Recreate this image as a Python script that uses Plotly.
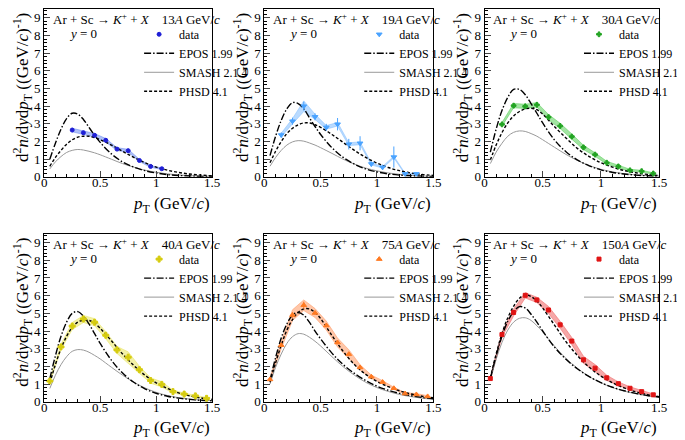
import plotly.graph_objects as go

W, H = 685, 440

energies = ["13", "19", "30", "40", "75", "150"]

model_pt = [0.05, 0.1, 0.15, 0.2, 0.25, 0.3, 0.35, 0.4, 0.45, 0.5,
            0.6, 0.7, 0.8, 0.9, 1.0, 1.1, 1.2, 1.3, 1.4, 1.5]

epos_13 = [1.0, 1.9, 2.7, 3.3, 3.6, 3.55, 3.25, 2.8, 2.35, 1.95, 1.3, 0.85, 0.55, 0.35, 0.22, 0.13, 0.08, 0.05, 0.03, 0.02]
smash_13 = [0.45, 0.85, 1.15, 1.38, 1.5, 1.55, 1.52, 1.45, 1.36, 1.25, 1.0, 0.75, 0.55, 0.38, 0.26, 0.17, 0.11, 0.07, 0.04, 0.03]
phsd_13 = [0.6, 1.1, 1.5, 1.85, 2.1, 2.25, 2.3, 2.3, 2.22, 2.1, 1.8, 1.45, 1.1, 0.8, 0.55, 0.38, 0.25, 0.16, 0.1, 0.06]

epos_19 = [1.2, 2.3, 3.2, 3.85, 4.2, 4.15, 3.85, 3.35, 2.85, 2.4, 1.65, 1.1, 0.72, 0.45, 0.28, 0.17, 0.1, 0.06, 0.04, 0.02]
smash_19 = [0.6, 1.1, 1.5, 1.8, 1.98, 2.05, 2.02, 1.92, 1.8, 1.65, 1.33, 1.0, 0.72, 0.5, 0.34, 0.22, 0.14, 0.09, 0.05, 0.03]
phsd_19 = [0.8, 1.45, 2.0, 2.45, 2.75, 2.95, 3.05, 3.05, 2.95, 2.8, 2.4, 1.95, 1.5, 1.1, 0.78, 0.53, 0.35, 0.22, 0.14, 0.08]

epos_30 = [1.4, 2.7, 3.75, 4.5, 4.95, 4.95, 4.65, 4.15, 3.6, 3.05, 2.1, 1.42, 0.95, 0.62, 0.4, 0.25, 0.16, 0.1, 0.06, 0.04]
smash_30 = [0.75, 1.4, 1.9, 2.3, 2.52, 2.6, 2.57, 2.45, 2.3, 2.1, 1.68, 1.27, 0.92, 0.64, 0.43, 0.28, 0.18, 0.11, 0.07, 0.04]
phsd_30 = [0.95, 1.8, 2.5, 3.05, 3.45, 3.7, 3.85, 3.88, 3.8, 3.55, 2.85, 2.2, 1.6, 1.15, 0.8, 0.55, 0.36, 0.23, 0.14, 0.08]

epos_40 = [1.3, 2.6, 3.7, 4.5, 5.0, 5.1, 4.85, 4.4, 3.85, 3.3, 2.35, 1.62, 1.1, 0.73, 0.48, 0.31, 0.2, 0.13, 0.08, 0.05]
smash_40 = [0.75, 1.5, 2.1, 2.55, 2.85, 2.95, 2.92, 2.8, 2.62, 2.42, 1.95, 1.5, 1.1, 0.78, 0.53, 0.35, 0.23, 0.15, 0.09, 0.06]
phsd_40 = [1.05, 2.1, 3.0, 3.7, 4.2, 4.5, 4.62, 4.6, 4.45, 4.15, 3.45, 2.7, 2.05, 1.5, 1.07, 0.75, 0.5, 0.33, 0.21, 0.13]

epos_75 = [1.2, 2.5, 3.6, 4.4, 4.9, 5.05, 4.9, 4.5, 4.0, 3.55, 2.75, 2.1, 1.6, 1.2, 0.88, 0.65, 0.47, 0.34, 0.24, 0.17]
smash_75 = [1.0, 1.95, 2.7, 3.3, 3.68, 3.85, 3.82, 3.65, 3.42, 3.15, 2.55, 1.98, 1.5, 1.1, 0.8, 0.58, 0.41, 0.29, 0.2, 0.14]
phsd_75 = [1.1, 2.2, 3.2, 4.05, 4.65, 5.05, 5.25, 5.25, 5.05, 4.7, 3.75, 2.85, 2.1, 1.55, 1.15, 0.85, 0.62, 0.44, 0.31, 0.22]

epos_150 = [1.3, 2.6, 3.7, 4.55, 5.1, 5.38, 5.3, 4.95, 4.5, 4.0, 3.1, 2.4, 1.85, 1.42, 1.08, 0.82, 0.62, 0.47, 0.35, 0.27]
smash_150 = [1.2, 2.4, 3.35, 4.05, 4.5, 4.72, 4.75, 4.6, 4.3, 3.95, 3.15, 2.45, 1.88, 1.42, 1.07, 0.8, 0.6, 0.45, 0.33, 0.25]
phsd_150 = [1.35, 2.7, 3.85, 4.75, 5.4, 5.85, 6.05, 5.95, 5.7, 5.3, 4.35, 3.4, 2.6, 1.95, 1.45, 1.07, 0.78, 0.56, 0.4, 0.29]

pt_13 = [0.25, 0.35, 0.45, 0.55, 0.65, 0.75, 0.85, 0.95, 1.05]
data_13 = [2.65, 2.5, 2.35, 2.07, 1.57, 1.48, 0.93, 0.59, 0.46]
stat_13 = [0.12, 0.1, 0.1, 0.12, 0.1, 0.12, 0.08, 0.06, 0.05]
sys_13 = [0.1, 0.1, 0.1, 0.1, 0.08, 0.08, 0.06, 0.05, 0.04]

pt_19 = [0.15, 0.25, 0.35, 0.45, 0.55, 0.65, 0.75, 0.85, 0.95, 1.05, 1.15, 1.25, 1.35]
data_19 = [2.37, 3.15, 4.0, 3.4, 2.8, 2.98, 1.85, 1.9, 0.73, 0.54, 1.12, 0.17, 0.17]
stat_19 = [0.15, 0.2, 0.25, 0.2, 0.2, 0.35, 0.3, 0.4, 0.15, 0.15, 0.6, 0.1, 0.1]
sys_19 = [0.1, 0.15, 0.3, 0.15, 0.1, 0.1, 0.08, 0.08, 0.05, 0.05, 0.05, 0.03, 0.03]

pt_30 = [0.15, 0.25, 0.35, 0.45, 0.55, 0.65, 0.75, 0.85, 0.95, 1.05, 1.15, 1.25, 1.35, 1.45]
data_30 = [2.97, 4.03, 3.99, 4.08, 3.38, 2.88, 2.28, 1.67, 1.26, 0.8, 0.59, 0.37, 0.32, 0.19]
stat_30 = [0.08, 0.12, 0.15, 0.15, 0.12, 0.12, 0.1, 0.08, 0.06, 0.06, 0.05, 0.05, 0.05, 0.05]
sys_30 = [0.1, 0.12, 0.12, 0.12, 0.15, 0.15, 0.15, 0.12, 0.1, 0.08, 0.07, 0.06, 0.05, 0.04]

pt_40 = [0.05, 0.15, 0.25, 0.35, 0.45, 0.55, 0.65, 0.75, 0.85, 0.95, 1.05, 1.15, 1.25, 1.35, 1.45]
data_40 = [1.17, 3.1, 4.28, 4.68, 4.5, 3.76, 2.93, 2.52, 1.81, 1.2, 0.98, 0.57, 0.43, 0.33, 0.19]
stat_40 = [0.1, 0.12, 0.15, 0.15, 0.15, 0.12, 0.12, 0.1, 0.08, 0.08, 0.08, 0.06, 0.05, 0.05, 0.05]
sys_40 = [0.1, 0.15, 0.2, 0.2, 0.2, 0.2, 0.2, 0.3, 0.2, 0.15, 0.15, 0.08, 0.06, 0.05, 0.04]

pt_75 = [0.05, 0.15, 0.25, 0.35, 0.45, 0.55, 0.65, 0.75, 0.85, 0.95, 1.05, 1.15, 1.25, 1.35, 1.45]
data_75 = [1.26, 3.2, 4.9, 5.46, 5.02, 4.31, 3.35, 2.69, 1.94, 1.41, 1.11, 0.76, 0.46, 0.41, 0.3]
stat_75 = [0.08, 0.1, 0.15, 0.2, 0.1, 0.1, 0.1, 0.08, 0.06, 0.05, 0.05, 0.04, 0.04, 0.04, 0.04]
sys_75 = [0.1, 0.2, 0.3, 0.3, 0.25, 0.25, 0.25, 0.25, 0.15, 0.1, 0.08, 0.06, 0.05, 0.05, 0.04]

pt_150 = [0.05, 0.15, 0.25, 0.35, 0.45, 0.55, 0.65, 0.75, 0.85, 0.95, 1.05, 1.15, 1.25, 1.35, 1.45]
data_150 = [1.31, 3.8, 5.05, 6.02, 5.76, 5.19, 4.35, 3.43, 2.37, 1.9, 1.35, 1.02, 0.76, 0.57, 0.39]
stat_150 = [0.05] * 15
sys_150 = [0.08, 0.15, 0.2, 0.15, 0.15, 0.2, 0.2, 0.2, 0.2, 0.2, 0.15, 0.1, 0.08, 0.06, 0.05]

x_ticks = [0, 0.5, 1, 1.5]
x_tick_labels = ["0", "0.5", "1", "1.5"]
y_ticks = list(range(10))

panels = [
    dict(e="13", pt=pt_13, y=data_13, st=stat_13, sy=sys_13, epos=epos_13, smash=smash_13, phsd=phsd_13,
         col="#1f1fd6", band="rgba(110,140,240,0.55)", sym="circle", size=4),
    dict(e="19", pt=pt_19, y=data_19, st=stat_19, sy=sys_19, epos=epos_19, smash=smash_19, phsd=phsd_19,
         col="#4aa3ff", band="rgba(140,195,255,0.6)", sym="triangle-down", size=5),
    dict(e="30", pt=pt_30, y=data_30, st=stat_30, sy=sys_30, epos=epos_30, smash=smash_30, phsd=phsd_30,
         col="#22a322", band="rgba(100,210,100,0.6)", sym="cross", size=4),
    dict(e="40", pt=pt_40, y=data_40, st=stat_40, sy=sys_40, epos=epos_40, smash=smash_40, phsd=phsd_40,
         col="#d6cc10", band="rgba(235,232,110,0.6)", sym="cross", size=5),
    dict(e="75", pt=pt_75, y=data_75, st=stat_75, sy=sys_75, epos=epos_75, smash=smash_75, phsd=phsd_75,
         col="#ff7a22", band="rgba(255,160,110,0.6)", sym="triangle-up", size=5),
    dict(e="150", pt=pt_150, y=data_150, st=stat_150, sy=sys_150, epos=epos_150, smash=smash_150, phsd=phsd_150,
         col="#e01515", band="rgba(240,110,110,0.6)", sym="square", size=4),
]

# pixel geometry of each panel's frame: (left, right, top, bottom)
col_px = [(35, 212), (267, 445), (499, 683)]
row_px = [(1, 172), (230, 401)]

FONT = "Liberation Serif, Times New Roman, serif"
NB = "\u00a0"

fig = go.Figure()
layout = dict(width=W, height=H, margin=dict(l=0, r=0, t=0, b=0),
              paper_bgcolor="white", plot_bgcolor="white", showlegend=True,
              font=dict(family=FONT, size=13, color="black"))
annotations = []

for i, p in enumerate(panels):
    r, c = divmod(i, 3)
    xl, xr = col_px[c]
    yt, yb = row_px[r]
    k = "" if i == 0 else str(i + 1)
    xa, ya = "x" + k, "y" + k
    leg = "legend" + k
    layout["xaxis" + k] = dict(
        domain=[xl / W, xr / W], range=[0, 1.5], anchor=ya,
        tickvals=x_ticks, ticktext=x_tick_labels, ticks="inside", ticklen=6,
        ticklabelstandoff=-6,
        minor=dict(dtick=0.1, ticks="inside", ticklen=3, tickcolor="black"),
        showgrid=False, zeroline=False, showline=True, linecolor="black",
        linewidth=1, mirror=True, tickfont=dict(size=13, family=FONT))
    layout["yaxis" + k] = dict(
        domain=[1 - yb / H, 1 - yt / H], range=[0, 9.5], anchor=xa,
        tickvals=y_ticks, ticks="inside", ticklen=6,
        minor=dict(dtick=0.2, ticks="inside", ticklen=3, tickcolor="black"),
        showgrid=False, zeroline=False, showline=True, linecolor="black",
        linewidth=1, mirror=True, tickfont=dict(size=13, family=FONT))
    layout[leg] = dict(
        x=(xl + 100) / W, y=1 - (yt + 11) / H, xanchor="left", yanchor="top",
        bgcolor="rgba(0,0,0,0)", itemwidth=30, tracegroupgap=0,
        font=dict(size=12, family=FONT), itemclick=False)

    up = [v + s for v, s in zip(p["y"], p["sy"])]
    lo = [v - s for v, s in zip(p["y"], p["sy"])]
    fig.add_trace(go.Scatter(
        x=p["pt"] + p["pt"][::-1], y=up + lo[::-1], fill="toself",
        fillcolor=p["band"], line=dict(color=p["band"], width=1),
        mode="lines", hoverinfo="skip", showlegend=False, xaxis=xa, yaxis=ya))
    fig.add_trace(go.Scatter(
        x=model_pt, y=p["smash"], mode="lines", line=dict(color="#999999", width=1, shape="spline"),
        name="SMASH 2.1.4", legend=leg, legendrank=3, xaxis=xa, yaxis=ya))
    fig.add_trace(go.Scatter(
        x=model_pt, y=p["epos"], mode="lines",
        line=dict(color="black", width=1.4, dash="7px,2px,1.5px,2px", shape="spline"),
        name="EPOS 1.99", legend=leg, legendrank=2, xaxis=xa, yaxis=ya))
    fig.add_trace(go.Scatter(
        x=model_pt, y=p["phsd"], mode="lines",
        line=dict(color="black", width=1.4, dash="3px,2px", shape="spline"),
        name="PHSD 4.1", legend=leg, legendrank=4, xaxis=xa, yaxis=ya))
    fig.add_trace(go.Scatter(
        x=p["pt"], y=p["y"], mode="markers",
        marker=dict(color=p["col"], symbol=p["sym"], size=p["size"],
                    line=dict(color=p["col"], width=1)),
        error_y=dict(type="data", array=p["st"], color=p["col"], thickness=1, width=0),
        name="data", legend=leg, legendrank=1, xaxis=xa, yaxis=ya))

    annotations.append(dict(
        x=(xl + 7) / W, y=1 - (yt + 10) / H, xref="paper", yref="paper",
        xanchor="left", yanchor="middle", showarrow=False,
        text="Ar + Sc \u2192 <i>K</i><sup>+</sup> + <i>X</i>" + NB * 4 + p["e"] + "<i>A</i> GeV/<i>c</i>",
        font=dict(size=13, family=FONT)))
    annotations.append(dict(
        x=(xl + 24) / W, y=1 - (yt + 25) / H, xref="paper", yref="paper",
        xanchor="left", yanchor="middle", showarrow=False,
        text="<i>y</i> = 0", font=dict(size=13, family=FONT)))
    annotations.append(dict(
        x=xr / W, y=1 - (yb + 15) / H, xref="paper", yref="paper",
        xanchor="right", yanchor="top", showarrow=False,
        text="<i>p</i><sub>T</sub> (GeV/<i>c</i>)", font=dict(size=17, family=FONT)))
    annotations.append(dict(
        x=(xl - 23) / W, y=1 - (yt + 80) / H, xref="paper", yref="paper",
        xanchor="center", yanchor="middle", showarrow=False, textangle=-90,
        text="d<sup>2</sup><i>n</i>/d<i>y</i>d<i>p</i><sub>T</sub> ((GeV/<i>c</i>)<sup>-1</sup>)",
        font=dict(size=17, family=FONT)))

layout["annotations"] = annotations
fig.update_layout(**layout)
fig.write_html("out.html")
